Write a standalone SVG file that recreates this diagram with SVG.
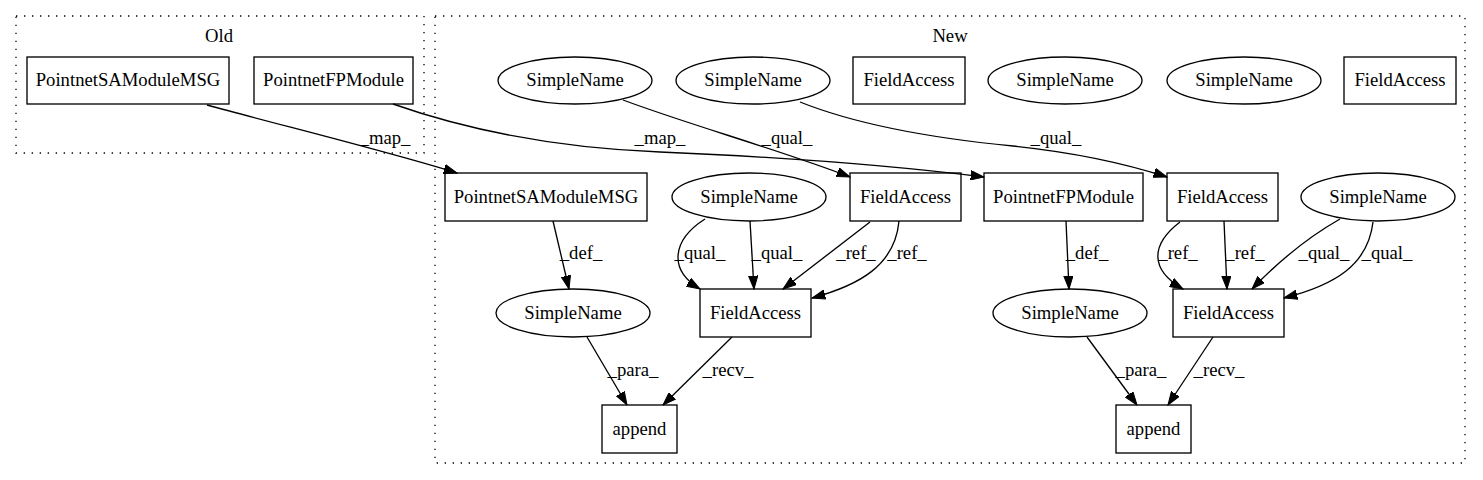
<svg xmlns="http://www.w3.org/2000/svg" width="1483" height="480" viewBox="0 0 1483 480">
<style>
text{font-family:"Liberation Serif","Times New Roman",serif;font-size:18.67px;fill:#000;text-anchor:middle}
.n{fill:#fff;stroke:#000;stroke-width:1.33}
.c{fill:none;stroke:#000;stroke-width:1.33;stroke-dasharray:1.33,6.67}
.e{fill:none;stroke:#000;stroke-width:1.33;marker-end:url(#arr)}
</style>
<defs>
<marker id="arr" viewBox="0 0 14 10" refX="13.3" refY="5" markerWidth="14" markerHeight="10" markerUnits="userSpaceOnUse" orient="auto">
<path d="M0,0.33 L13.3,5 L0,9.67 z" fill="#000" stroke="#000" stroke-width="1"/>
</marker>
</defs>
<rect width="1483" height="480" fill="#fff"/>
<g id="cluster_old">
<rect class="c" x="16" y="16" width="408" height="137"/>
<text x="219" y="42">Old</text>
</g>
<g id="cluster_new">
<rect class="c" x="435" y="16" width="1030" height="447"/>
<text x="950" y="42">New</text>
</g>
<g id="old_sa"><rect class="n" x="27" y="57" width="202" height="47"/><text x="128" y="86">PointnetSAModuleMSG</text></g>
<g id="old_fp"><rect class="n" x="254" y="57" width="159" height="47"/><text x="333.5" y="86">PointnetFPModule</text></g>
<g id="sn_a"><ellipse class="n" cx="575" cy="80.5" rx="77" ry="23.5"/><text x="575" y="86">SimpleName</text></g>
<g id="sn_b"><ellipse class="n" cx="753" cy="80.5" rx="77" ry="23.5"/><text x="753" y="86">SimpleName</text></g>
<g id="fa_top1"><rect class="n" x="853" y="57" width="112" height="47"/><text x="909" y="86">FieldAccess</text></g>
<g id="sn_c"><ellipse class="n" cx="1065" cy="80.5" rx="77" ry="23.5"/><text x="1065" y="86">SimpleName</text></g>
<g id="sn_d"><ellipse class="n" cx="1244" cy="80.5" rx="77" ry="23.5"/><text x="1244" y="86">SimpleName</text></g>
<g id="fa_top2"><rect class="n" x="1344" y="57" width="112" height="47"/><text x="1400" y="86">FieldAccess</text></g>
<g id="new_sa"><rect class="n" x="445" y="173" width="202" height="48"/><text x="546" y="202.5">PointnetSAModuleMSG</text></g>
<g id="sn_e"><ellipse class="n" cx="749" cy="197" rx="77" ry="24"/><text x="749" y="202.5">SimpleName</text></g>
<g id="fa_f"><rect class="n" x="850" y="173" width="111" height="48"/><text x="905.5" y="202.5">FieldAccess</text></g>
<g id="new_fp"><rect class="n" x="984" y="173" width="159" height="48"/><text x="1063.5" y="202.5">PointnetFPModule</text></g>
<g id="fa_i"><rect class="n" x="1167" y="173" width="111" height="48"/><text x="1222.5" y="202.5">FieldAccess</text></g>
<g id="sn_j"><ellipse class="n" cx="1378" cy="197" rx="77" ry="24"/><text x="1378" y="202.5">SimpleName</text></g>
<g id="sn_g"><ellipse class="n" cx="573" cy="313" rx="77" ry="24"/><text x="573" y="318.5">SimpleName</text></g>
<g id="fa_h"><rect class="n" x="700" y="289" width="111" height="48"/><text x="755.5" y="318.5">FieldAccess</text></g>
<g id="sn_k"><ellipse class="n" cx="1070" cy="313" rx="77" ry="24"/><text x="1070" y="318.5">SimpleName</text></g>
<g id="fa_l"><rect class="n" x="1173" y="289" width="111" height="48"/><text x="1228.5" y="318.5">FieldAccess</text></g>
<g id="append1"><rect class="n" x="602" y="405" width="75" height="48"/><text x="639.5" y="434.5">append</text></g>
<g id="append2"><rect class="n" x="1116" y="405" width="75" height="48"/><text x="1153.5" y="434.5">append</text></g>
<g id="edges">
<path class="e" d="M207,105 C280,125 390,152 457,173"/>
<text x="385" y="144">_map_</text>
<path class="e" d="M393,104 C470,131 560,148 660,152 C780,157 880,164 984,177"/>
<text x="660" y="144">_map_</text>
<path class="e" d="M623,100 C690,125 780,150 850,177"/>
<text x="787" y="144">_qual_</text>
<path class="e" d="M800,102 C850,122 920,137 1013,146 C1080,153 1130,165 1167,177"/>
<text x="1056" y="144">_qual_</text>
<path class="e" d="M553,221 L569,289"/>
<text x="581" y="259">_def_</text>
<path class="e" d="M705,219 C672,240 668,270 700,289"/>
<text x="700" y="259">_qual_</text>
<path class="e" d="M750,221 L754,289"/>
<text x="777" y="259">_qual_</text>
<path class="e" d="M870,222 L783,289"/>
<text x="856" y="259">_ref_</text>
<path class="e" d="M899,221 C895,265 860,285 812,298"/>
<text x="907" y="259">_ref_</text>
<path class="e" d="M587,337 L627,405"/>
<text x="633" y="376">_para_</text>
<path class="e" d="M732,337 L663,405"/>
<text x="728" y="376">_recv_</text>
<path class="e" d="M1066,221 L1069,289"/>
<text x="1087" y="259">_def_</text>
<path class="e" d="M1180,222 C1150,245 1150,270 1183,289"/>
<text x="1178" y="259">_ref_</text>
<path class="e" d="M1224,221 L1227,289"/>
<text x="1245" y="259">_ref_</text>
<path class="e" d="M1340,219 C1310,236 1280,260 1252,289"/>
<text x="1324" y="259">_qual_</text>
<path class="e" d="M1373,222 C1368,265 1335,285 1284,298"/>
<text x="1387" y="259">_qual_</text>
<path class="e" d="M1087,337 L1137,405"/>
<text x="1141" y="376">_para_</text>
<path class="e" d="M1213,337 L1168,405"/>
<text x="1219" y="376">_recv_</text>
</g>
</svg>
